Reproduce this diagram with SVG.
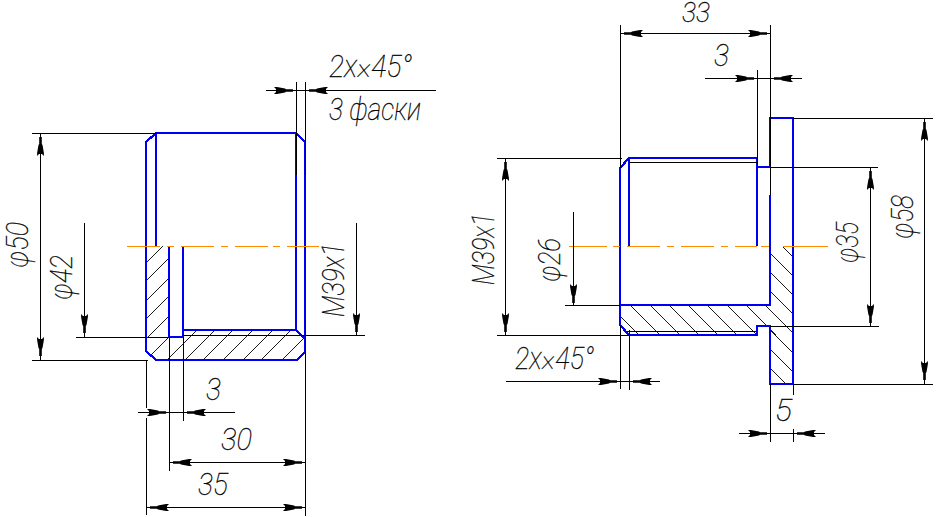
<svg xmlns="http://www.w3.org/2000/svg" width="937" height="517" viewBox="0 0 937 517">
<style>
.b{fill:none;stroke:#0000f0;stroke-width:2.2;stroke-linejoin:miter;shape-rendering:crispEdges}
.k{fill:none;stroke:#000;stroke-width:1;shape-rendering:crispEdges}
.h{fill:none;stroke:#000;stroke-width:.9;shape-rendering:crispEdges}
.c{fill:none;stroke:#ff8c00;stroke-width:1;shape-rendering:crispEdges}
text{font-family:"Roboto","Liberation Sans",sans-serif;font-style:italic;font-weight:100;font-size:31px;fill:#000;stroke:#000;stroke-width:.3}
</style>
<defs>
<path id="a" d="M-1.3,0H1.3V7L2,8L3.4,16V19L1.5,17H-1.5L-3.4,19V16L-2,8L-1.3,7Z" fill="#000"/>
<clipPath id="cl"><path d="M146,246H169V337H183V330H296L305,339V352L297,360H156L146,351Z"/></clipPath>
<clipPath id="cr"><path d="M620,305H770V246H793V384H770V326H757V335H629L620,325Z"/></clipPath>
</defs>
<rect width="937" height="517" fill="#fff"/>
<g id="left-part">
<g clip-path="url(#cl)"><path class="h" d="M146,263L163,246M146,281L169,258M146,301L169,278M146,319L169,296M146,339L169,316M146,360L170,336M167,360L197,330M185,360L215,330M203,360L233,330M223,360L253,330M243,360L273,330M261,360L291,330M282,360L312,330"/></g>
<path class="b" d="M146,246V142L156,133H296L305,142V352L297,360H156L146,351V246"/>
<path class="b" d="M156,133V246M296,133V330H183V337M169,246V337H183V246M296,330L305,339"/>
</g>
<g id="right-part">
<g clip-path="url(#cr)"><path class="h" d="M620,316L640,336M630,305L660,335M650,305L680,335M669,305L699,335M688,305L718,335M707,305L737,335M727,305L757,335M746,305L776,335M765,305L800,340M770,291L800,321M770,272L800,302M770,253L800,283M783,247L800,264M770,349L805,384M770,368L786,384M770,330L805,365"/></g>
<path class="b" d="M620,246V168L629,158H757V167H770V118H793V384H770V326H757V335H629L620,325V246"/>
<path class="b" d="M629,158V246M757,158V246M620,305H770V195"/>
</g>
<g id="centerlines">
<path class="c" d="M127,246H160M167,246H174M181,246H214M221,246H228M235,246H268M273,246H280M287,246H319"/>
<path class="c" d="M569,246H607M613,246H620M627,246H660M667,246H674M681,246H714M721,246H728M735,246H757M761,246H769M783,246H828"/>
</g>
<g id="dimensions">
<path class="k" d="M32,133H157M32,360H148M76,337H169M40,133V360M84,223V337"/>
<path class="k" d="M146,360V408M146,418V515M169,337V471M183,337V421M305,320V516M138,412H235M169,462H305M146,507H305"/>
<path class="k" d="M296,82V175M305,82V175M266,90H436M356,223V335M183,335H365"/>
<path class="k" d="M497,158H622M497,335H630M505,158V335M573,212V305M565,305H620M620,25V168M620,325V389M629,330V390M506,381H660M629,162H757M627,331H757"/>
<path class="k" d="M620,33H770M770,25V195M757,70V167M705,78H802"/>
<path class="k" d="M770,167H878M770,326H879M870,167V326M793,118H933M793,384H933M924,118V384M770,384V442M793,384V395M793,429V442M739,433H825"/>
<g>
<use href="#a" transform="translate(40.500,137)"/><use href="#a" transform="translate(40.500,356) rotate(180)"/>
<use href="#a" transform="translate(84.500,333) rotate(180)"/>
<use href="#a" transform="translate(166,412.500) rotate(90)"/><use href="#a" transform="translate(187,412.500) rotate(-90)"/>
<use href="#a" transform="translate(173,462.500) rotate(-90)"/><use href="#a" transform="translate(302,462.500) rotate(90)"/>
<use href="#a" transform="translate(150,507.500) rotate(-90)"/><use href="#a" transform="translate(302,507.500) rotate(90)"/>
<use href="#a" transform="translate(293,90.500) rotate(90)"/><use href="#a" transform="translate(309,90.500) rotate(-90)"/>
<use href="#a" transform="translate(356.500,332) rotate(180)"/>
<use href="#a" transform="translate(505.500,162)"/><use href="#a" transform="translate(505.500,332) rotate(180)"/>
<use href="#a" transform="translate(573.500,303) rotate(180)"/>
<use href="#a" transform="translate(617,381.500) rotate(90)"/><use href="#a" transform="translate(633,381.500) rotate(-90)"/>
<use href="#a" transform="translate(624,33.500) rotate(-90)"/><use href="#a" transform="translate(767,33.500) rotate(90)"/>
<use href="#a" transform="translate(754,78.500) rotate(90)"/><use href="#a" transform="translate(774,78.500) rotate(-90)"/>
<use href="#a" transform="translate(767,433.500) rotate(90)"/><use href="#a" transform="translate(797,433.500) rotate(-90)"/>
<use href="#a" transform="translate(870.500,171)"/><use href="#a" transform="translate(870.500,323) rotate(180)"/>
<use href="#a" transform="translate(924.500,122)"/><use href="#a" transform="translate(924.500,380) rotate(180)"/>
</g>
</g>
<g id="labels">
<text x="329" y="77" textLength="83" lengthAdjust="spacingAndGlyphs">2x×45°</text>
<text x="329" y="120" textLength="92" lengthAdjust="spacingAndGlyphs">3 фаски</text>
<text transform="translate(28,268) rotate(-90)" textLength="46" lengthAdjust="spacingAndGlyphs">φ50</text>
<text transform="translate(72,300) rotate(-90)" textLength="45" lengthAdjust="spacingAndGlyphs">φ42</text>
<text transform="translate(344,317) rotate(-90)" textLength="74" lengthAdjust="spacingAndGlyphs">M39x1</text>
<text x="206" y="400" textLength="15" lengthAdjust="spacingAndGlyphs">3</text>
<text x="221" y="450" textLength="31" lengthAdjust="spacingAndGlyphs">30</text>
<text x="198" y="495" textLength="30" lengthAdjust="spacingAndGlyphs">35</text>
<text x="682" y="21.500" textLength="28" lengthAdjust="spacingAndGlyphs" style="font-size:27px">33</text>
<text x="714" y="66" textLength="15" lengthAdjust="spacingAndGlyphs">3</text>
<text x="775" y="421" textLength="17" lengthAdjust="spacingAndGlyphs">5</text>
<text transform="translate(494,285) rotate(-90)" textLength="72" lengthAdjust="spacingAndGlyphs">M39x1</text>
<text transform="translate(560,282) rotate(-90)" textLength="44" lengthAdjust="spacingAndGlyphs">φ26</text>
<text x="515" y="369" textLength="79" lengthAdjust="spacingAndGlyphs">2x×45°</text>
<text transform="translate(858,263) rotate(-90)" textLength="41" lengthAdjust="spacingAndGlyphs">φ35</text>
<text transform="translate(913,239) rotate(-90)" textLength="44" lengthAdjust="spacingAndGlyphs">φ58</text>
</g>
</svg>
